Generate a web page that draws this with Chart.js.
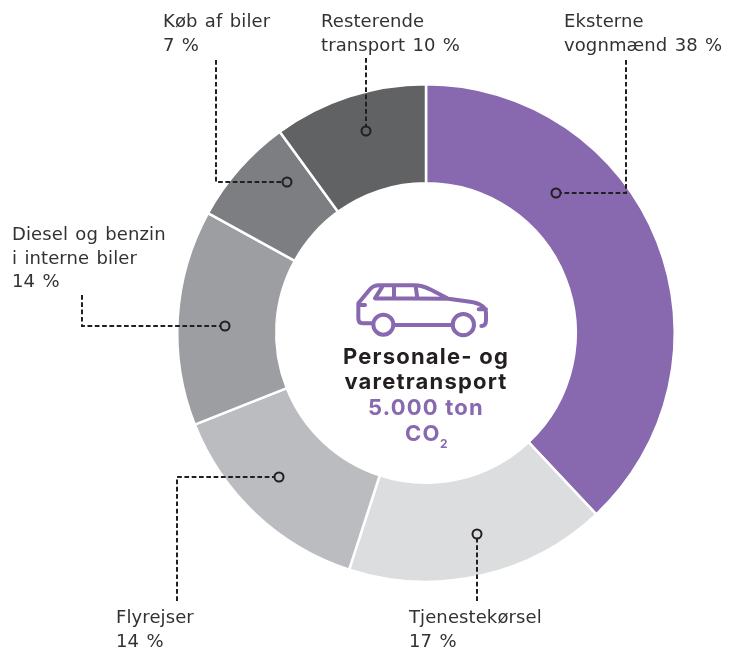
<!DOCTYPE html>
<html lang="da">
<head>
<meta charset="utf-8">
<title>Personale- og varetransport</title>
<script src="https://cdn.jsdelivr.net/npm/chart.js@4"></script>
<style>
  html, body { margin: 0; padding: 0; background: #fff; }
  canvas { display: block; }
</style>
</head>
<body>
<canvas id="grafica" width="731" height="648"></canvas>
<script>
const categories = ['Eksterne\nvognmænd', 'Tjenestekørsel\n', 'Flyrejser\n', 'Diesel og benzin\ni interne biler\n', 'Køb af biler\n', 'Resterende\ntransport'];
const values = [38, 17, 14, 14, 7, 10];
const colors = ['#8868ae', '#dcddde', '#bbbcbf', '#9c9ea1', '#7d7e81', '#616264'];

// where the text of each callout starts, and the leader line ending in the ring
const labelPos = [[564, 27], [409, 623], [116, 623], [12, 240], [163, 27], [321, 27]];
const leaders = [
  [[626, 60], [626, 193], [556, 193]],
  [[477, 601], [477, 534]],
  [[177, 601], [177, 477], [279, 477]],
  [[82, 295], [82, 326], [225, 326]],
  [[216, 60], [216, 182], [287, 182]],
  [[366, 58], [366, 131]]
];

const INK = '#231f20';
const PURPLE = '#8868ae';
const DOT_R = 4.5;

function drawCar(ctx) {
  // traced on a 3x grid, so scaled down here
  ctx.save();
  ctx.translate(320, 270);
  ctx.scale(1 / 3, 1 / 3);
  ctx.strokeStyle = PURPLE;
  ctx.lineWidth = 12;
  ctx.lineJoin = 'round';
  ctx.lineCap = 'round';
  ctx.beginPath();
  ctx.moveTo(158, 160);
  ctx.lineTo(128, 160);
  ctx.quadraticCurveTo(115, 160, 115, 145);
  ctx.lineTo(115, 100);
  ctx.lineTo(150, 58);
  ctx.quadraticCurveTo(160, 46, 178, 46);
  ctx.lineTo(285, 46);
  ctx.quadraticCurveTo(305, 46, 330, 58);
  ctx.lineTo(385, 86);
  ctx.lineTo(450, 95);
  ctx.quadraticCurveTo(498, 102, 498, 130);
  ctx.lineTo(498, 150);
  ctx.quadraticCurveTo(498, 168, 484, 168);
  ctx.moveTo(222, 165);
  ctx.lineTo(398, 165);
  // windows
  ctx.moveTo(165, 85);
  ctx.lineTo(385, 86);
  ctx.moveTo(165, 85);
  ctx.lineTo(187, 50);
  ctx.moveTo(222, 48);
  ctx.lineTo(222, 85);
  ctx.moveTo(287, 48);
  ctx.lineTo(292, 85);
  // lights
  ctx.moveTo(115, 105);
  ctx.lineTo(135, 105);
  ctx.moveTo(476, 118);
  ctx.lineTo(498, 118);
  ctx.stroke();
  ctx.beginPath();
  ctx.arc(190, 164, 30, 0, Math.PI * 2);
  ctx.moveTo(462, 164);
  ctx.arc(430, 164, 32, 0, Math.PI * 2);
  ctx.stroke();
  ctx.restore();
}

const callouts = {
  id: 'callouts',
  afterDraw(chart) {
    const ctx = chart.ctx;
    ctx.save();

    // leader lines, stopping at the edge of the ring
    ctx.strokeStyle = INK;
    ctx.lineWidth = 2;
    leaders.forEach(pts => {
      const end = pts[pts.length - 1];
      const prev = pts[pts.length - 2];
      const dist = Math.hypot(prev[0] - end[0], prev[1] - end[1]);
      const stopX = end[0] + (prev[0] - end[0]) / dist * DOT_R;
      const stopY = end[1] + (prev[1] - end[1]) / dist * DOT_R;
      ctx.setLineDash([4.7, 2.6]);
      ctx.beginPath();
      ctx.moveTo(pts[0][0], pts[0][1]);
      pts.slice(1, -1).forEach(p => ctx.lineTo(p[0], p[1]));
      ctx.lineTo(stopX, stopY);
      ctx.stroke();
      ctx.setLineDash([]);
      ctx.beginPath();
      ctx.arc(end[0], end[1], DOT_R, 0, Math.PI * 2);
      ctx.stroke();
    });

    // callout texts
    ctx.font = '18px "DejaVu Sans"';
    ctx.letterSpacing = '0.1px';
    ctx.wordSpacing = '1.5px';
    ctx.fillStyle = '#333233';
    ctx.textAlign = 'left';
    ctx.textBaseline = 'alphabetic';
    categories.forEach((cat, i) => {
      const sep = cat.endsWith('\n') ? '' : ' ';
      const lines = (cat + sep + values[i] + ' %').split('\n');
      lines.forEach((line, j) => ctx.fillText(line, labelPos[i][0], labelPos[i][1] + j * 23.5));
    });

    // centre
    drawCar(ctx);
    ctx.fillStyle = INK;
    ctx.textAlign = 'center';
    ctx.wordSpacing = '0px';
    ctx.font = 'bold 22px Inter';
    ctx.letterSpacing = '1.2px';
    ctx.fillText('Personale- og', 426, 364);
    ctx.fillText('varetransport', 426, 389);
    ctx.fillStyle = PURPLE;
    ctx.fillText('5.000 ton', 426, 415);
    ctx.textAlign = 'left';
    ctx.fillText('CO', 405, 441);
    ctx.font = 'bold 12px Inter';
    ctx.letterSpacing = '0px';
    ctx.fillText('2', 440, 448);
    ctx.restore();
  }
};

new Chart(document.getElementById('grafica'), {
  type: 'doughnut',
  data: {
    labels: categories.map(c => c.trim().replace('\n', ' ')),
    datasets: [{
      data: values,
      backgroundColor: colors,
      borderColor: '#ffffff',
      borderWidth: 2.5
    }]
  },
  options: {
    responsive: false,
    animation: false,
    cutout: '60.2%',
    layout: { padding: { left: 176, right: 55, top: 83, bottom: 65 } },
    plugins: {
      legend: { display: false },
      tooltip: { enabled: false }
    }
  },
  plugins: [callouts]
});
</script>
</body>
</html>
